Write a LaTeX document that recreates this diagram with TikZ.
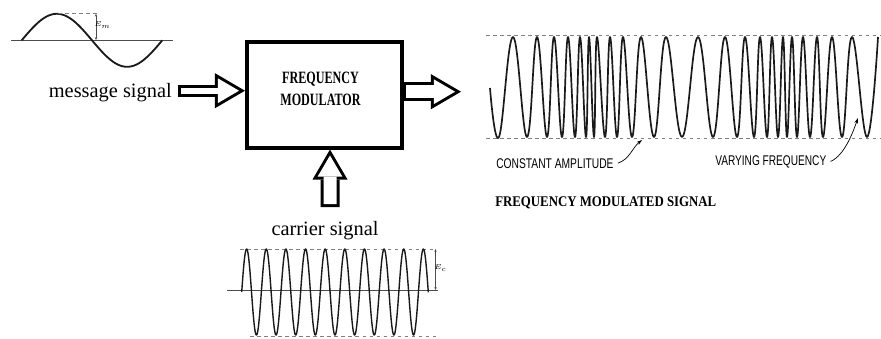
\documentclass[tikz,border=0pt]{standalone}
\usepackage{fontspec}
\setmainfont{Liberation Serif}
\newfontfamily\rotulosans{Liberation Sans}
\usepackage{graphicx}
\usetikzlibrary{arrows.meta, positioning, calc}
\definecolor{tinta}{HTML}{1A1A1A}
\colorlet{colTrazo}{tinta}
\colorlet{colEje}{black!70}
\colorlet{colGuia}{black!50}
\tikzset{
  cajaMod/.style={draw=black, line width=0.1cm, minimum width=3.875cm,
    minimum height=2.645cm, inner sep=0pt},
  textoCaja/.style={font=\bfseries\fontsize{12.3}{16}\selectfont, align=center,
    inner sep=0pt},
  rotulo/.style={font=\fontsize{14.5}{17}\selectfont, inner sep=0pt},
  rotuloSans/.style={font=\rotulosans\fontsize{10}{12}\selectfont, inner sep=0pt},
  titulo/.style={font=\bfseries\fontsize{10.5}{12}\selectfont, inner sep=0pt},
  flechaBloque/.style={
    preaction={draw=black, line width=#1, shorten <=0pt, shorten >=0pt,
      -{Triangle[length=0.75cm, width=0.875cm, line width=0pt]}},
    draw=white, line width=#1-0.15cm, shorten <=0.075cm, shorten >=0.149cm,
    -{Triangle[length=0.526cm, width=0.615cm, line width=0pt]}},
  flechaBloque/.default=0.475cm,
  onda/.style={draw=colTrazo, line width=1.1pt, line join=round},
  eje/.style={draw=colEje, line width=0.6pt},
  guia/.style={draw=colGuia, line width=0.5pt, dash pattern=on 2.5pt off 2.5pt},
  cota/.style={draw=colEje, line width=0.4pt,
    {Stealth[length=2pt, width=1.6pt]}-{Stealth[length=2pt, width=1.6pt]}},
  senal/.style={-{Stealth[length=4pt, width=2.6pt]}, line width=0.5pt, draw=black},
  cotaTexto/.style={font=\fontsize{5}{6}\selectfont, inner sep=0pt},
}

\begin{document}
\begin{tikzpicture}[x=0.025cm, y=-0.025cm]
  \path[fill=white, use as bounding box] (0,0) rectangle (881,338);

  % modulador
  \node[cajaMod] (fm) at (324.5,94.6) {};
  \node[textoCaja] (rotuloFM) at ([xshift=-0.1cm, yshift=0.145cm]fm.center)
    {\scalebox{0.7}[1]{FREQUENCY}\\\scalebox{0.7}[1]{MODULATOR}};

  % mensaje
  \draw[eje] (11,40) -- (173,40);
  \draw[onda, line width=1.3pt] plot[domain=21.7:162.3, samples=120]
    (\x, {40.3-26.5*sin((\x-21.7)/140.6*360)});
  \draw[guia] (58,13.8) -- (97,13.8);
  \draw[cota] (96,13.8) -- (96,40);
  \node[cotaTexto] (em) at (102.5,25) {$E_m$};
  \node[rotulo, anchor=base east] (msglabel) at (172,97) {message signal};

  % portadora
  \node[rotulo, anchor=base] (carlabel) at (325,235) {carrier signal};
  \draw[eje] (227,290) -- (438,290);
  \draw[guia] (240,249) -- (433,249);
  \draw[guia] (250,336) -- (438,336);
  \draw[onda, line width=1pt] plot[domain=241.7:428.3, samples=500]
    (\x, {292-43*sin((\x-241.7)/19.64*360)});
  \draw[cota] (435.5,249) -- (435.5,290);
  \node[cotaTexto] (ec) at (440.5,268) {$E_c$};

  % flechas de bloque
  \coordinate (entradaMsg) at ([yshift=0.0975cm]fm.west);
  \coordinate (colaMsg) at ([xshift=0.15cm]msglabel.east);
  \draw[flechaBloque=0.3cm] (colaMsg |- entradaMsg) -- (entradaMsg);
  \coordinate (salidaFM) at (461,91.7);
  \draw[flechaBloque, shorten <=0.05cm] (salidaFM -| fm.east) -- (salidaFM);
  \coordinate (entradaPort) at ([xshift=0.1375cm]fm.south);
  \coordinate (colaPort) at (330,207);
  \draw[flechaBloque] (colaPort) -- (entradaPort);

  % senal modulada
  \draw[guia] (486,35.5) -- (881,35.5);
  \draw[guia] (486,138.5) -- (881,138.5);
  \draw[onda, line width=1.2pt] plot[smooth, tension=0.7] coordinates {
    (490,88) (499,137) (513,37) (527,137) (537,37) (547,137) (554,37)
    (562,137) (568,37) (575,137) (580,37) (586,137) (589,37) (594,137)
    (597,37) (605,137) (610,37) (617,137) (623,37) (632,137) (641,37)
    (654,137) (666,37) (682,137) (698,37) (713,137) (725,37) (737,137)
    (745,37) (754,137) (760,37) (767,137) (772,37) (778,137) (783,37)
    (787,137) (792,37) (797,137) (803,37) (810,137) (817,37) (823,137)
    (832,37) (842,137) (852,37) (867,137) (878,37)};

  \node[rotuloSans, anchor=base west] (constante) at (496,168)
    {\scalebox{0.73}[1]{CONSTANT AMPLITUDE}};
  \node[rotuloSans, anchor=base west] (variable) at (715,165)
    {\scalebox{0.72}[1]{VARYING FREQUENCY}};
  \coordinate (marcaAmp) at (642,140);
  \coordinate (marcaFrec) at (858,118);
  \draw[senal] ([xshift=0.1cm]constante.east) .. controls +(12,-4) and +(-10,8) .. (marcaAmp);
  \draw[senal] ([xshift=0.1cm]variable.east) .. controls +(14,-6) and +(-5,14) .. (marcaFrec);
  \node[titulo, anchor=base west] (tituloFM) at (495,206.7)
    {\scalebox{0.87}[1]{FREQUENCY MODULATED SIGNAL}};
\end{tikzpicture}
\end{document}
